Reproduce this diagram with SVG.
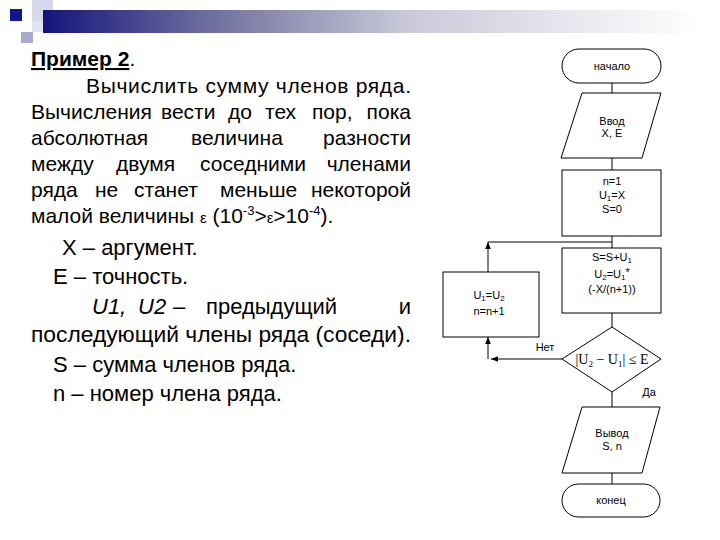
<svg xmlns="http://www.w3.org/2000/svg" width="720" height="540" viewBox="0 0 720 540">
<defs>
<linearGradient id="bar" x1="0" y1="0" x2="1" y2="0">
<stop offset="0" stop-color="#14147a"/>
<stop offset="0.24" stop-color="#6a6a9c"/>
<stop offset="0.55" stop-color="#c8c8d8"/>
<stop offset="1" stop-color="#ffffff"/>
</linearGradient>
<marker id="ah" viewBox="0 0 10 10" refX="10" refY="5" markerWidth="7" markerHeight="7" orient="auto" markerUnits="userSpaceOnUse">
<path d="M0,1 L10,5 L0,9 z" fill="#000"/>
</marker>
<style>
.t{font-family:"Liberation Sans",Arial,sans-serif;font-size:21px;fill:#000}
.b{font-family:"Liberation Sans",Arial,sans-serif;font-size:22px;fill:#000}
.f{font-family:"Liberation Sans",Arial,sans-serif;font-size:11px;fill:#000;text-anchor:middle}
.s{stroke:#000;stroke-width:1;fill:#fff}
.c{stroke:#000;stroke-width:1;fill:none}
</style>
</defs>
<rect width="720" height="540" fill="#fff"/>
<g id="decor">
<rect x="32" y="0" width="21" height="22" fill="#d8d8ec"/>
<rect x="32" y="21" width="11" height="11" fill="#e4e4f0"/>
<rect x="21" y="32" width="12" height="11" fill="#a8a8d0"/>
<rect x="10" y="9" width="12" height="12" fill="#14148c"/>
<rect x="43" y="10" width="657" height="23" fill="url(#bar)"/>
</g>
<g id="text">
<text class="t" x="31" y="66"><tspan font-weight="bold" text-decoration="underline">Пример 2</tspan>.</text>
<text class="t" x="86" y="93" textLength="325" lengthAdjust="spacing">Вычислить сумму членов ряда.</text>
<text class="t" y="119"><tspan x="31">Вычисления</tspan><tspan x="161">вести</tspan><tspan x="228">до</tspan><tspan x="265">тех</tspan><tspan x="312">пор,</tspan></text>
<text class="t" x="411" y="119" text-anchor="end">пока</text>
<text class="t" y="145"><tspan x="31">абсолютная</tspan><tspan x="191">величина</tspan></text>
<text class="t" x="411" y="145" text-anchor="end">разности</text>
<text class="t" y="171"><tspan x="31">между</tspan><tspan x="116">двумя</tspan><tspan x="200">соседними</tspan></text>
<text class="t" x="411" y="171" text-anchor="end">членами</text>
<text class="t" y="197"><tspan x="31">ряда</tspan><tspan x="95">не</tspan><tspan x="134">станет</tspan><tspan x="220">меньше</tspan></text>
<text class="t" x="411" y="197" text-anchor="end">некоторой</text>
<text class="t" x="31" y="223">малой величины <tspan font-size="15">ε</tspan> (10<tspan font-size="13" dy="-8">-3</tspan><tspan dy="8">&gt;</tspan><tspan font-size="15">ε</tspan>&gt;10<tspan font-size="13" dy="-8">-4</tspan><tspan dy="8">).</tspan></text>
<text class="b" x="62" y="255">X – аргумент.</text>
<text class="b" x="53" y="284">E – точность.</text>
<text class="b" y="314"><tspan x="92" font-style="italic">U1,</tspan><tspan x="138" font-style="italic">U2</tspan><tspan x="173">–</tspan><tspan x="206">предыдущий</tspan></text>
<text class="b" x="411" y="314" text-anchor="end">и</text>
<text class="b" x="31" y="342" textLength="380" lengthAdjust="spacingAndGlyphs">последующий члены ряда (соседи).</text>
<text class="b" x="53" y="372">S – сумма членов ряда.</text>
<text class="b" x="53" y="401">n – номер члена ряда.</text>
</g>
<g id="connectors">
<line class="c" x1="612" y1="83" x2="612" y2="93"/>
<line class="c" x1="612" y1="158" x2="612" y2="170"/>
<line class="c" x1="612" y1="236" x2="612" y2="248"/>
<line class="c" x1="612" y1="242" x2="488" y2="242"/>
<line class="c" x1="488" y1="272" x2="488" y2="242" marker-end="url(#ah)"/>
<line class="c" x1="612" y1="313" x2="612" y2="327"/>
<line class="c" x1="562" y1="359" x2="491" y2="359" marker-end="url(#ah)"/>
<line class="c" x1="488" y1="359" x2="488" y2="337" marker-end="url(#ah)"/>
<line class="c" x1="612" y1="392" x2="612" y2="407"/>
<line class="c" x1="612" y1="473" x2="612" y2="484"/>
<text class="f" x="545" y="351">Нет</text>
<text class="f" x="649" y="396">Да</text>
</g>
<g id="start">
<rect class="s" x="562" y="49" width="99" height="34" rx="17"/>
<text class="f" x="612" y="70">начало</text>
</g>
<g id="input">
<polygon class="s" points="582,93 661,93 642,158 561,158"/>
<text class="f" x="612" y="125">Ввод</text>
<text class="f" x="612" y="137">X, E</text>
</g>
<g id="init">
<rect class="s" x="562" y="170" width="99" height="66"/>
<text class="f" x="612" y="185">n=1</text>
<text class="f" x="612" y="199">U<tspan font-size="8" dy="2">1</tspan><tspan dy="-2">=X</tspan></text>
<text class="f" x="612" y="213">S=0</text>
</g>
<g id="calc">
<rect class="s" x="562" y="248" width="99" height="65"/>
<text class="f" x="612" y="261">S=S+U<tspan font-size="8" dy="2">1</tspan></text>
<text class="f" x="612" y="278">U<tspan font-size="8" dy="2">2</tspan><tspan dy="-2">=U</tspan><tspan font-size="8" dy="2">1</tspan><tspan dy="-4">*</tspan></text>
<text class="f" x="612" y="293">(-X/(n+1))</text>
</g>
<g id="update">
<rect class="s" x="443" y="272" width="96" height="65"/>
<text class="f" x="489" y="299">U<tspan font-size="8" dy="2">1</tspan><tspan dy="-2">=U</tspan><tspan font-size="8" dy="2">2</tspan></text>
<text class="f" x="489" y="315">n=n+1</text>
</g>
<g id="check">
<polygon class="s" points="612,327 661,359 612,392 562,359"/>
<text x="612" y="364" text-anchor="middle" font-family="'Liberation Serif','Times New Roman',serif" font-size="14">|U<tspan font-size="9" dy="3">2</tspan><tspan dy="-3"> − U</tspan><tspan font-size="9" dy="3">1</tspan><tspan dy="-3">| ≤ E</tspan></text>
</g>
<g id="output">
<polygon class="s" points="582,407 660,407 642,473 562,473"/>
<text class="f" x="612" y="437">Вывод</text>
<text class="f" x="612" y="450">S, n</text>
</g>
<g id="end">
<rect class="s" x="562" y="484" width="98" height="33" rx="16.5"/>
<text class="f" x="611" y="504">конец</text>
</g>
</svg>
